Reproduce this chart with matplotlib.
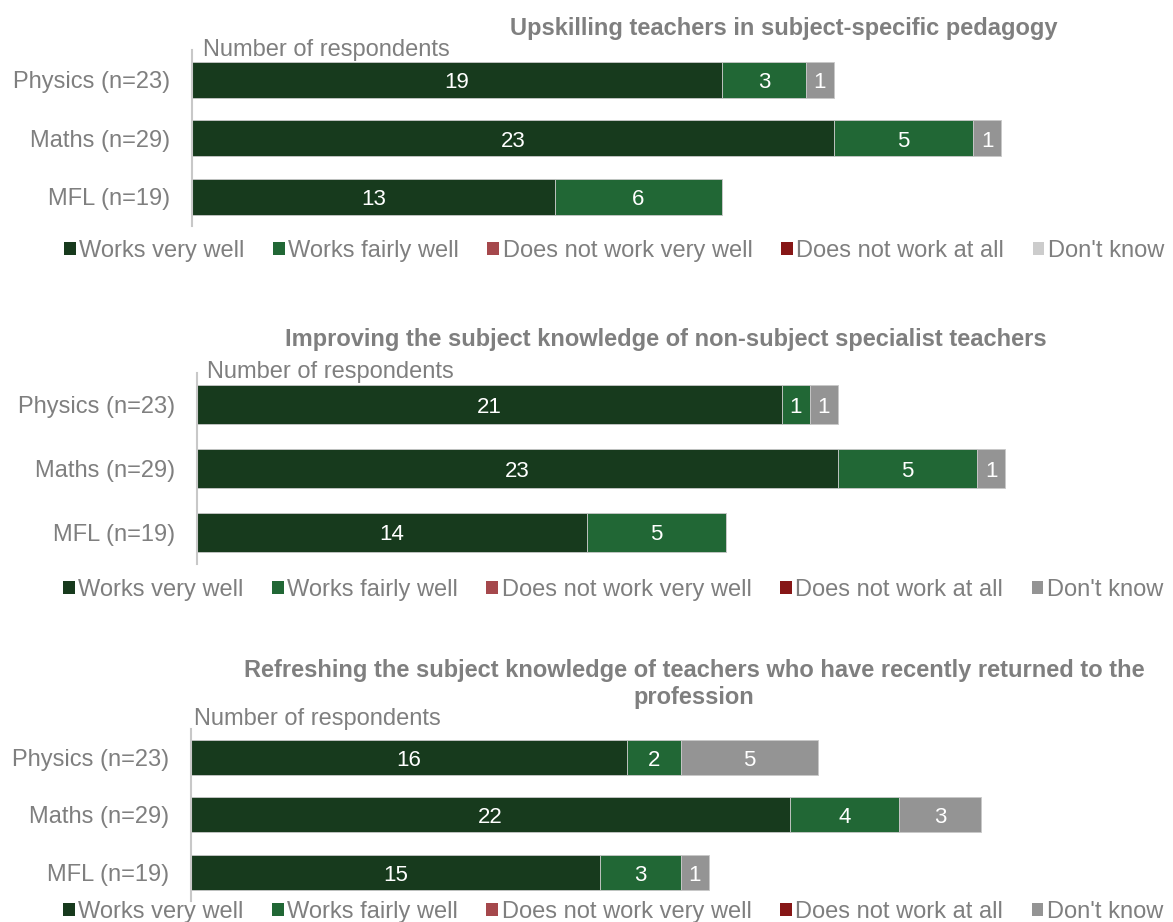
import matplotlib
matplotlib.use("Agg")
import matplotlib.pyplot as plt
from matplotlib.patches import Patch
import numpy as np

plt.rcParams['font.family'] = ['Liberation Sans', 'DejaVu Sans']

categories = ["Physics (n=23)", "Maths (n=29)", "MFL (n=19)"]
series = ["Works very well", "Works fairly well", "Does not work very well",
          "Does not work at all", "Don't know"]
colors = ["#173A1D", "#216735", "#A5484C", "#861616", "#949494"]

titles = [
    "Upskilling teachers in subject-specific pedagogy",
    "Improving the subject knowledge of non-subject specialist teachers",
    "Refreshing the subject knowledge of teachers who have recently returned to the\nprofession",
]

# values per category (Physics, Maths, MFL)
p1_very_well = [19, 23, 13]
p1_fairly_well = [3, 5, 6]
p1_not_very_well = [0, 0, 0]
p1_not_at_all = [0, 0, 0]
p1_dont_know = [1, 1, 0]

p2_very_well = [21, 23, 14]
p2_fairly_well = [1, 5, 5]
p2_not_very_well = [0, 0, 0]
p2_not_at_all = [0, 0, 0]
p2_dont_know = [1, 1, 0]

p3_very_well = [16, 22, 15]
p3_fairly_well = [2, 4, 3]
p3_not_very_well = [0, 0, 0]
p3_not_at_all = [0, 0, 0]
p3_dont_know = [5, 3, 1]

panels = [
    [p1_very_well, p1_fairly_well, p1_not_very_well, p1_not_at_all, p1_dont_know],
    [p2_very_well, p2_fairly_well, p2_not_very_well, p2_not_at_all, p2_dont_know],
    [p3_very_well, p3_fairly_well, p3_not_very_well, p3_not_at_all, p3_dont_know],
]

W, H = 1173, 922
fig = plt.figure(figsize=(W / 100, H / 100), dpi=100)

def fx(px):
    return px / W

def fy(py):
    return 1 - py / H

GRAY = "#7F7F7F"
FS = 17

layouts = [
    dict(left=192, scale=27.9, top=50.5, bottom=226, title_x=784, title_y=29,
         nr=(203, 50), leg_y=251, leg_x=614),
    dict(left=197, scale=27.86, top=373, bottom=564, title_x=666, title_y=339,
         nr=(207, 372), leg_y=590, leg_x=613),
    dict(left=191, scale=27.24, top=728.5, bottom=901, title_x=694, title_y=684,
         nr=(194, 719), leg_y=912, leg_x=613),
]

xmax = 35
for pi, (vals, lay) in enumerate(zip(panels, layouts)):
    width_px = xmax * lay["scale"]
    ax = fig.add_axes([fx(lay["left"]), fy(lay["bottom"]), width_px / W,
                       (lay["bottom"] - lay["top"]) / H])
    y = np.arange(len(categories))
    left = np.zeros(len(categories))
    for si, s in enumerate(series):
        v = np.array(vals[si], dtype=float)
        bars = ax.barh(y, v, left=left, height=0.61, color=colors[si],
                       edgecolor="#C8C8C8", linewidth=0.6)
        for b, val in zip(bars, v):
            if val > 0:
                ax.annotate(f"{int(val)}",
                            (b.get_x() + b.get_width() / 2, b.get_y() + b.get_height() / 2),
                            xytext=(0, -2), textcoords="offset points",
                            ha="center", va="center", color="white", fontsize=16)
        left += v
    ax.set_xlim(0, xmax)
    ax.set_ylim(len(categories) - 0.5, -0.5)
    ax.set_yticks(y)
    ax.set_yticklabels(categories, fontsize=FS, color=GRAY)
    ax.tick_params(axis="y", length=0, pad=16)
    ax.set_xticks([])
    for sp in ["top", "right", "bottom"]:
        ax.spines[sp].set_visible(False)
    ax.spines["left"].set_color("#C8C8C8")
    ax.spines["left"].set_linewidth(1.5)
    ax.patch.set_alpha(0)

    fig.text(fx(lay["title_x"]), fy(lay["title_y"]), titles[pi], ha="center",
             va="center", fontsize=FS, fontweight="bold", color=GRAY,
             linespacing=1.2)
    fig.text(fx(lay["nr"][0]), fy(lay["nr"][1]), "Number of respondents",
             ha="left", va="center", fontsize=FS, color=GRAY)

    leg_colors = list(colors)
    if pi == 0:
        leg_colors[4] = "#CCCCCC"
    handles = [Patch(facecolor=c, edgecolor="none") for c in leg_colors]
    leg = fig.legend(handles, series, loc="center", ncol=5, frameon=False,
                     bbox_to_anchor=(fx(lay["leg_x"]), fy(lay["leg_y"])),
                     fontsize=FS, handlelength=0.5, handleheight=0.5,
                     handletextpad=0.15, columnspacing=1.2, borderpad=0)
    for t in leg.get_texts():
        t.set_color(GRAY)

fig.savefig("out.png", dpi=100)
